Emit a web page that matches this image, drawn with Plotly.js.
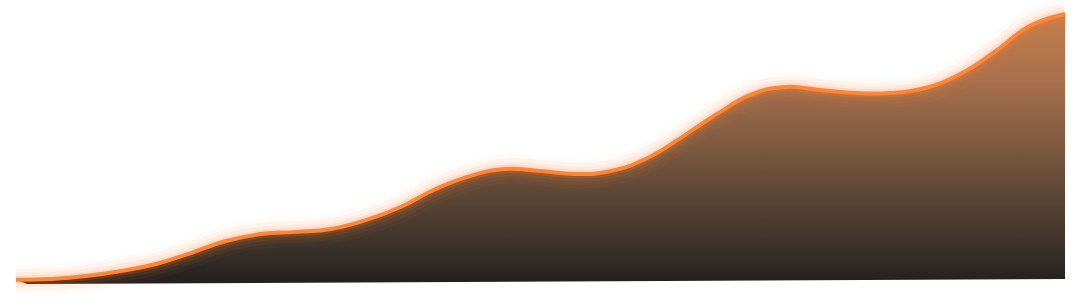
<!DOCTYPE html>
<html>
<head>
<meta charset="utf-8">
<script src="https://cdn.plot.ly/plotly-3.0.1.min.js"></script>
<style>
  html, body { margin: 0; padding: 0; background: #ffffff; }
  #chart { width: 1082px; height: 303px; }
</style>
</head>
<body>
<div id="chart"></div>
<script>
// Data (index positions and values on a 0–100 scale)
const periods = [0, 1, 2, 3, 4, 5, 6, 7, 8, 9, 10, 11, 12, 13, 14, 15,
                 16, 17, 18, 19, 20, 21, 22, 23, 24, 25, 26, 27, 28, 29, 30];
const values  = [0.8, 1.1, 2.2, 4.1, 6.7, 10.8, 15.3, 17.9, 18.7, 19.8, 23.1, 28.0, 34.7, 39.6, 42.2, 41.4,
                 40.3, 41.4, 45.9, 53.7, 62.3, 69.8, 72.8, 71.6, 70.5, 70.5, 72.4, 77.6, 86.0, 95.6, 100];
// floor of the filled area (slightly tilted in the reference)
const floorX = [0.32, 30];
const floorY = [-0.75, 1.1];

const lineColor = '#ff8636';
const gradientStops = [
  [0.00, '#232020'],
  [0.12, '#38302a'],
  [0.31, '#5a4434'],
  [0.49, '#7a5840'],
  [0.75, '#a8704c'],
  [1.00, '#c47e4c']
];

const spline = { shape: 'spline', smoothing: 1.3 };

const traces = [
  {
    x: floorX, y: floorY, type: 'scatter', mode: 'lines',
    line: { width: 0, color: 'rgba(0,0,0,0)' }, hoverinfo: 'skip'
  },
  {
    x: periods, y: values, type: 'scatter', mode: 'lines',
    line: Object.assign({ width: 0, color: 'rgba(0,0,0,0)' }, spline),
    fill: 'tonexty',
    fillgradient: { type: 'vertical', start: 0, stop: 100, colorscale: gradientStops },
    hoverinfo: 'skip'
  },
  // glow layers
  { x: periods, y: values, type: 'scatter', mode: 'lines',
    line: Object.assign({ width: 30, color: 'rgba(255,134,54,0.035)' }, spline), hoverinfo: 'skip' },
  { x: periods, y: values, type: 'scatter', mode: 'lines',
    line: Object.assign({ width: 22, color: 'rgba(255,134,54,0.055)' }, spline), hoverinfo: 'skip' },
  { x: periods, y: values, type: 'scatter', mode: 'lines',
    line: Object.assign({ width: 15, color: 'rgba(255,134,54,0.08)' }, spline), hoverinfo: 'skip' },
  { x: periods, y: values, type: 'scatter', mode: 'lines',
    line: Object.assign({ width: 9, color: 'rgba(255,134,54,0.14)' }, spline), hoverinfo: 'skip' },
  // main line
  { x: periods, y: values, type: 'scatter', mode: 'lines',
    line: Object.assign({ width: 4, color: lineColor }, spline), hoverinfo: 'skip' }
];

const layout = {
  width: 1082, height: 303,
  margin: { l: 0, r: 0, t: 0, b: 0, pad: 0 },
  paper_bgcolor: '#ffffff', plot_bgcolor: '#ffffff',
  showlegend: false,
  xaxis: { visible: false, range: [-0.4576, 30.486], fixedrange: true },
  yaxis: { visible: false, range: [-7.836, 105.22], fixedrange: true }
};

Plotly.newPlot('chart', traces, layout, { displayModeBar: false, staticPlot: true });
</script>
</body>
</html>
